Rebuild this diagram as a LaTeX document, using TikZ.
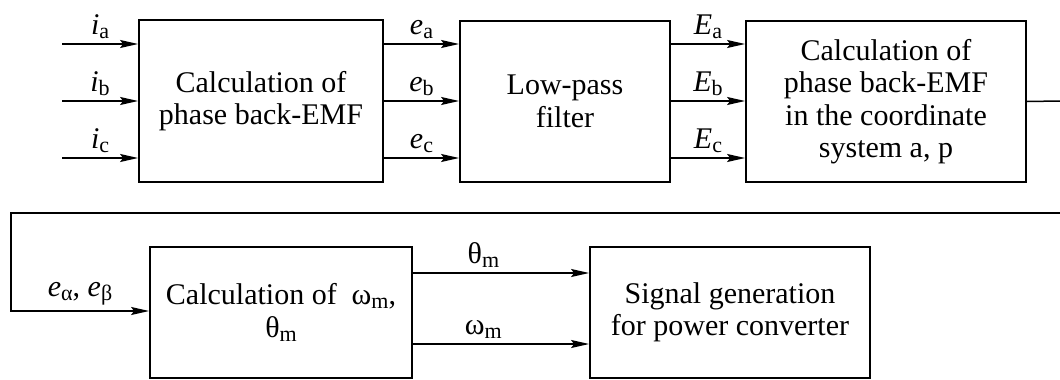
\documentclass[tikz,border=0pt]{standalone}
\usepackage{fontspec}
\setmainfont{Liberation Serif}
\usetikzlibrary{arrows.meta,calc}
\newcommand\sbs[2]{#1\raisebox{-4pt}{\fontsize{22}{22}\selectfont #2}}
\begin{document}
\begin{tikzpicture}[x=1pt,y=-1pt,
  blk/.style={draw,line width=1.8pt,align=center,inner sep=0pt,
     font=\fontsize{30}{32.5}\selectfont},
  arr/.style={line width=1.5pt,-{Stealth[length=18pt,width=8pt,inset=3pt]}},
  ln/.style={line width=1.5pt},
  lab/.style={font=\fontsize{30}{32}\selectfont,inner sep=5pt}]
\useasboundingbox (0,0) rectangle (1060,380);
\node[blk,minimum width=244pt,minimum height=162pt] (b1) at (261,101) {Calculation of\\phase back-EMF};
\node[blk,minimum width=210pt,minimum height=161pt] (b2) at (565,101.5) {Low-pass\\filter};
\node[blk,minimum width=280pt,minimum height=161pt] (b3) at (886,101.5) {Calculation of\\phase back-EMF\\in the coordinate\\system a, p};
\node[blk,minimum width=262pt,minimum height=131pt] (b4) at (281,312.5) {Calculation of\ \ \sbs{ω}{m},\\\sbs{θ}{m}};
\node[blk,minimum width=280pt,minimum height=131pt] (b5) at (730,312.5) {Signal generation\\for power converter};
\coordinate (i1) at (62,44);
\coordinate (i2) at (62,101);
\coordinate (i3) at (62,158);
\draw[arr] (i1) -- (i1 -| b1.west) node[lab,midway,above] {\sbs{\textit{i}}{a}};
\draw[arr] (i2) -- (i2 -| b1.west) node[lab,midway,above] {\sbs{\textit{i}}{b}};
\draw[arr] (i3) -- (i3 -| b1.west) node[lab,midway,above] {\sbs{\textit{i}}{c}};
\draw[arr] (i1 -| b1.east) -- (i1 -| b2.west) node[lab,midway,above] {\sbs{\textit{e}}{a}};
\draw[arr] (i2 -| b1.east) -- (i2 -| b2.west) node[lab,midway,above] {\sbs{\textit{e}}{b}};
\draw[arr] (i3 -| b1.east) -- (i3 -| b2.west) node[lab,midway,above] {\sbs{\textit{e}}{c}};
\draw[arr] (i1 -| b2.east) -- (i1 -| b3.west) node[lab,midway,above] {\sbs{\textit{E}}{a}};
\draw[arr] (i2 -| b2.east) -- (i2 -| b3.west) node[lab,midway,above] {\sbs{\textit{E}}{b}};
\draw[arr] (i3 -| b2.east) -- (i3 -| b3.west) node[lab,midway,above] {\sbs{\textit{E}}{c}};
\coordinate (r1) at (1060,101);
\coordinate (r2) at (1060,213);
\coordinate (l1) at (11,213);
\coordinate (l2) at (11,311);
\draw[ln] (b3.east) -- (r1);
\draw[arr] (r2) -- (l1) -- (l2) -- (l2 -| b4.west) node[lab,midway,above] {\sbs{\textit{e}}{α}, \sbs{\textit{e}}{β}};
\coordinate (t1) at (412,273);
\coordinate (w1) at (412,344);
\draw[arr] (t1 -| b4.east) -- (t1 -| b5.west) node[lab,pos=0.4,above] {\sbs{θ}{m}};
\draw[arr] (w1 -| b4.east) -- (w1 -| b5.west) node[lab,pos=0.4,above] {\sbs{ω}{m}};
\end{tikzpicture}
\end{document}
